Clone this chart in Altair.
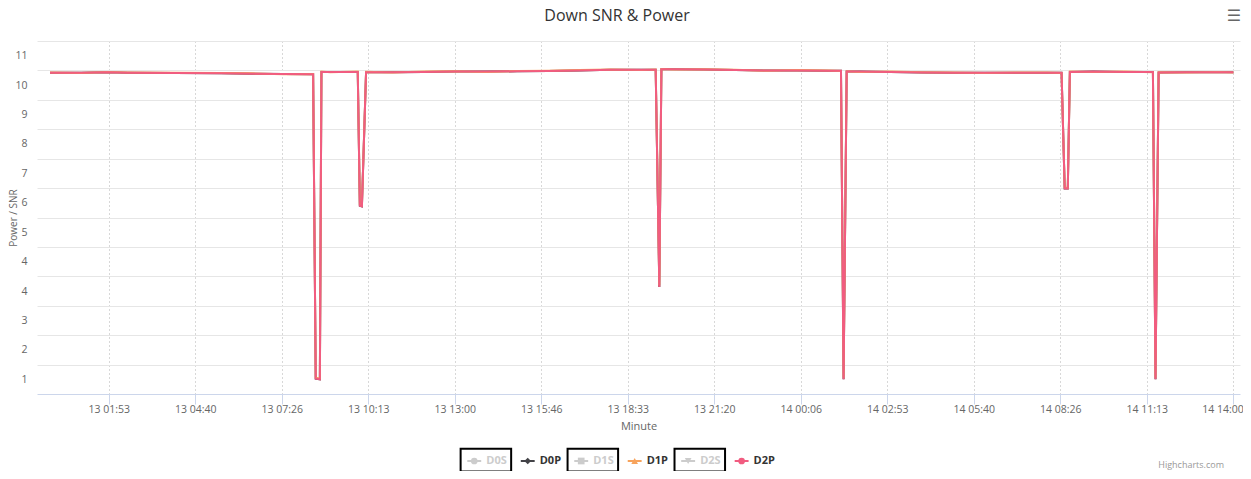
import altair as alt
import pandas as pd

# ---------------- data ----------------
times = [
    "2024-01-13T00:00", "2024-01-13T01:00", "2024-01-13T01:50", "2024-01-13T02:30",
    "2024-01-13T04:00", "2024-01-13T05:30", "2024-01-13T06:30", "2024-01-13T07:30",
    "2024-01-13T08:27", "2024-01-13T08:32", "2024-01-13T08:40", "2024-01-13T08:43",
    "2024-01-13T09:00", "2024-01-13T09:53", "2024-01-13T09:57", "2024-01-13T10:01",
    "2024-01-13T10:09", "2024-01-13T11:00", "2024-01-13T12:00", "2024-01-13T13:00",
    "2024-01-13T14:00", "2024-01-13T15:00", "2024-01-13T16:00", "2024-01-13T17:00",
    "2024-01-13T18:00", "2024-01-13T19:00", "2024-01-13T19:27", "2024-01-13T19:34",
    "2024-01-13T19:38", "2024-01-13T20:00", "2024-01-13T21:00", "2024-01-13T22:00",
    "2024-01-13T23:00", "2024-01-14T00:00", "2024-01-14T01:00", "2024-01-14T01:24",
    "2024-01-14T01:29", "2024-01-14T01:35", "2024-01-14T02:00", "2024-01-14T03:00",
    "2024-01-14T04:00", "2024-01-14T05:00", "2024-01-14T06:00", "2024-01-14T07:00",
    "2024-01-14T08:00", "2024-01-14T08:29", "2024-01-14T08:35", "2024-01-14T08:41",
    "2024-01-14T08:45", "2024-01-14T09:30", "2024-01-14T10:30", "2024-01-14T11:25",
    "2024-01-14T11:30", "2024-01-14T11:36", "2024-01-14T12:30", "2024-01-14T13:30",
    "2024-01-14T14:00",
]

d2p = [
    11.42, 11.42, 11.44, 11.42, 11.41, 11.40, 11.39, 11.38,
    11.37, 1.02, 1.00, 11.45,
    11.45, 11.45, 6.90, 6.88,
    11.44, 11.44, 11.45, 11.46,
    11.46, 11.47, 11.48, 11.50,
    11.52, 11.52, 11.52, 4.14,
    11.54, 11.54, 11.53, 11.51,
    11.50, 11.50, 11.49, 11.49,
    1.00, 11.46, 11.46, 11.45,
    11.43, 11.42, 11.42, 11.42,
    11.42, 11.42, 7.49, 7.49,
    11.45, 11.46, 11.45, 11.45,
    1.00, 11.43, 11.44, 11.44,
    11.44,
]

d1p = [
    11.43, 11.41, 11.45, 11.43, 11.42, 11.41, 11.40, 11.37,
    11.38, 1.05, 1.03, 11.46,
    11.44, 11.46, 6.95, 6.92,
    11.45, 11.43, 11.46, 11.47,
    11.45, 11.48, 11.49, 11.51,
    11.53, 11.51, 11.53, 4.20,
    11.55, 11.53, 11.54, 11.52,
    11.49, 11.51, 11.50, 11.48,
    1.05, 11.47, 11.45, 11.46,
    11.44, 11.43, 11.41, 11.43,
    11.43, 11.41, 7.52, 7.50,
    11.46, 11.45, 11.46, 11.44,
    1.05, 11.44, 11.43, 11.45,
    11.43,
]

d0p = [
    11.42, 11.42, 11.44, 11.42, 11.41, 11.40, 11.39, 11.38,
    11.37, 1.02, 1.00, 11.45,
    11.45, 11.45, 6.90, 6.88,
    11.44, 11.44, 11.45, 11.46,
    11.46, 11.47, 11.48, 11.50,
    11.52, 11.52, 11.52, 4.14,
    11.54, 11.54, 11.53, 11.51,
    11.50, 11.50, 11.49, 11.49,
    1.00, 11.46, 11.46, 11.45,
    11.43, 11.42, 11.42, 11.42,
    11.42, 11.42, 7.49, 7.49,
    11.45, 11.46, 11.45, 11.45,
    1.00, 11.43, 11.44, 11.44,
    11.44,
]

y_tick_labels = ["1", "2", "3", "4", "4", "5", "6", "7", "8", "9", "10", "11"]

legend_names = ["D0S", "D0P", "D1S", "D1P", "D2S", "D2P"]
legend_colors = ["#cccccc", "#434348", "#cccccc", "#f7a35c", "#cccccc", "#f15c80"]
legend_shapes = ["circle", "diamond", "square", "triangle-up", "triangle-down", "circle"]
legend_hidden = [True, False, True, False, True, False]

series_colors = {"D0P": "#434348", "D1P": "#f7a35c", "D2P": "#f15c80"}

chart_title = "Down SNR & Power"
credit_text = "Highcharts.com"

# ---------------- build chart ----------------
FONT = "Open Sans"

x_domain = [
    alt.DateTime(year=2024, month=1, date=12, hours=23, minutes=35, seconds=0),
    alt.DateTime(year=2024, month=1, date=14, hours=14, minutes=12, seconds=47),
]
x_ticks = []
base_sec = 6800  # 13 01:53:20
for k in range(14):
    s = base_sec + k * 10000
    d = 13 + s // 86400
    r = s % 86400
    x_ticks.append(alt.DateTime(year=2024, month=1, date=int(d), hours=int(r // 3600),
                                minutes=int((r % 3600) // 60), seconds=int(r % 60)))

label_expr = "[" + ",".join("'%s'" % l for l in y_tick_labels) + "][round(datum.value - 1.5)]"

x_enc = alt.X(
    "time:T",
    scale=alt.Scale(domain=x_domain),
    axis=alt.Axis(
        values=x_ticks, format="%d %H:%M", title="Minute",
        grid=True, gridDash=[1, 3], gridColor="#b0b0b0", gridWidth=1,
        domainColor="#ccd6eb", tickColor="#ccd6eb", tickSize=10,
        labelColor="#666666", labelFontSize=10.5, labelPadding=0,
        labelFlush=False, labelOverlap=False,
        labelAlign={"condition": {"test": "datum.index >= 0.99", "value": "right"}, "value": "center"},
        labelOffset={"condition": {"test": "datum.index >= 0.99", "value": 10}, "value": 0},
        titleColor="#666666", titleFontSize=11, titleFontWeight="normal", titlePadding=6,
    ),
)
y_enc = alt.Y(
    "value:Q",
    scale=alt.Scale(domain=[0.5, 12.5], nice=False, zero=False),
    axis=alt.Axis(
        values=[i + 1.5 for i in range(12)], labelExpr=label_expr, labelOffset=14.7,
        ticks=False, domain=False, grid=True, gridColor="#e6e6e6",
        labelColor="#666666", labelFontSize=10.5, labelPadding=10,
        title="Power / SNR", titleColor="#666666", titleFontSize=10,
        titleFontWeight="normal", titlePadding=-4,
    ),
)

def series_layer(name, vals):
    df = pd.DataFrame({"time": times, "value": vals})
    return alt.Chart(df).mark_line(strokeWidth=2, color=series_colors[name]).encode(
        x=x_enc, y=y_enc
    )

lines = alt.layer(
    series_layer("D0P", d0p),
    series_layer("D1P", d1p),
    series_layer("D2P", d2p),
)

leg_df = pd.DataFrame({
    "idx": list(range(len(legend_names))),
    "name": legend_names,
    "color": legend_colors,
    "shape": legend_shapes,
    "hidden": legend_hidden,
})
leg_x = alt.Scale(domain=[-8.177, 14.32], nice=False, zero=False)
leg_base = alt.Chart(leg_df).transform_calculate(
    lx1="datum.idx - 0.13", lx2="datum.idx + 0.13",
    bx1="datum.idx - 0.255", bx2="datum.idx + 0.69",
)
LEG_Y = 420
leg_rule = leg_base.mark_rule(strokeWidth=2).encode(
    x=alt.X("lx1:Q", scale=leg_x, axis=None), x2="lx2:Q",
    y=alt.value(LEG_Y), color=alt.Color("color:N", scale=None),
)
leg_pt = leg_base.mark_point(filled=True, size=45, opacity=1).encode(
    x=alt.X("idx:Q", scale=leg_x, axis=None), y=alt.value(LEG_Y),
    color=alt.Color("color:N", scale=None), shape=alt.Shape("shape:N", scale=None),
)
leg_txt = leg_base.mark_text(align="left", baseline="middle", dx=12, fontSize=11,
                             fontWeight="bold", font=FONT).encode(
    x=alt.X("idx:Q", scale=leg_x, axis=None), y=alt.value(LEG_Y), text="name:N",
    color=alt.condition("datum.hidden", alt.value("#cccccc"), alt.value("#333333")),
)
leg_box = leg_base.transform_filter("datum.hidden").mark_rect(
    fillOpacity=0, stroke="black", strokeWidth=2
).encode(
    x=alt.X("bx1:Q", scale=leg_x, axis=None), x2="bx2:Q",
    y=alt.value(LEG_Y - 12.2), y2=alt.value(LEG_Y + 10.5),
)
credit = alt.Chart(pd.DataFrame({"t": [credit_text]})).mark_text(
    align="right", baseline="alphabetic", fontSize=9, color="#999999", font=FONT
).encode(x=alt.value(1187), y=alt.value(427), text="t:N")
menu = alt.Chart(pd.DataFrame({"t": ["\u2630"]})).mark_text(
    align="center", baseline="middle", fontSize=16, color="#666666", font="DejaVu Sans"
).encode(x=alt.value(1197), y=alt.value(-25), text="t:N")
title = alt.Chart(pd.DataFrame({"t": [chart_title]})).mark_text(
    align="center", baseline="alphabetic", fontSize=16, color="#333333", font=FONT
).encode(x=alt.value(580), y=alt.value(-20), text="t:N")

legend = alt.layer(leg_rule, leg_pt, leg_txt, leg_box)

chart = alt.layer(lines, legend, credit, menu, title).resolve_scale(x="independent").properties(
    width=1203, height=353,
    autosize=alt.AutoSizeParams(type="none"),
    padding={"left": 29, "top": 33, "right": 3, "bottom": 77},
).configure(font=FONT, background="white").configure_view(stroke=None)

chart.save("out.html", embed_options={"renderer": "svg", "actions": False})
